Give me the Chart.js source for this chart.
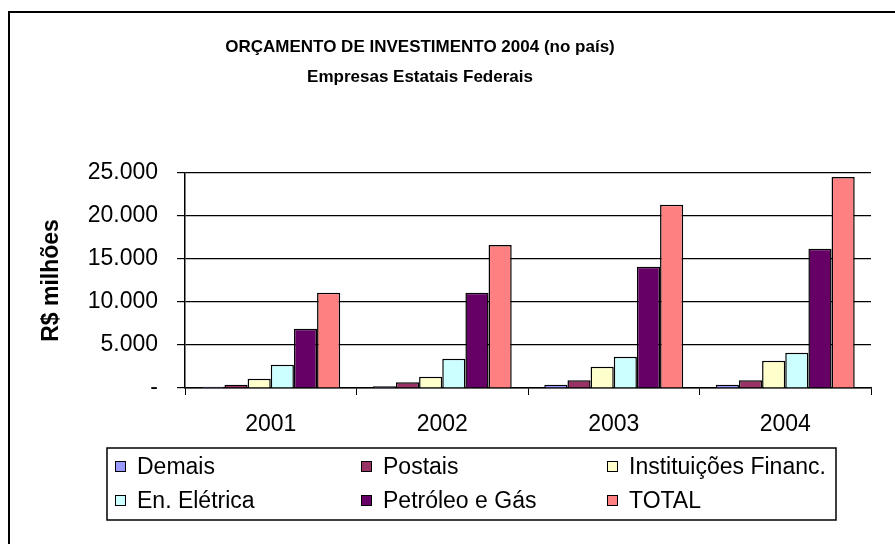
<!DOCTYPE html>
<html>
<head>
<meta charset="utf-8">
<script src="https://cdn.jsdelivr.net/npm/chart.js@4"></script>
<style>
html,body{margin:0;padding:0;background:#fff;}
#wrap{width:895px;height:544px;}
</style>
</head>
<body>
<div id="wrap"><canvas id="chart" width="895" height="544"></canvas></div>
<script>
// Orçamento de investimento - Empresas Estatais Federais (R$ milhões)

const years = ["2001", "2002", "2003", "2004"]

const demais = [150, 190, 390, 390]
const postais = [390, 660, 890, 890]
const instituicoes = [1080, 1320, 2480, 3170]
const enEletrica = [2710, 3400, 3640, 4100]
const petroleo = [6890, 11070, 14090, 16180]
const total = [11070, 16640, 21320, 24540]

const yTicks = [0, 5000, 10000, 15000, 20000, 25000]

const titleLines = ["ORÇAMENTO DE INVESTIMENTO 2004 (no país)", "Empresas Estatais Federais"]

const FONT = "'Liberation Sans', Arial, sans-serif"


function fmt(v){
if(v === 0) return "-"
return String(v).replace(/\B(?=(\d{3})+(?!\d))/g, ".")
}


function ds(label, data, color){
return {
label: label,
data: data,
backgroundColor: color,
borderColor: "#000",
borderWidth: 1.5,
categoryPercentage: 0.81,
barPercentage: 1.0
}
}


// frame, title and legend drawn on the canvas

const decor = {
id: "decor",
afterDraw(chart){
const ctx = chart.ctx
ctx.save()

// outer frame
ctx.strokeStyle = "#000"
ctx.lineWidth = 2
ctx.strokeRect(9, 12, 900, 600)

// title
ctx.fillStyle = "#000"
ctx.font = "bold 17px " + FONT
ctx.textAlign = "center"
ctx.textBaseline = "middle"
ctx.fillText(titleLines[0], 420, 47)
ctx.fillText(titleLines[1], 420, 77)

// legend box
ctx.lineWidth = 1.5
ctx.strokeRect(107, 448, 729, 72)

const colX = [115, 361, 607]
const rowY = [467, 501]
ctx.font = "23px " + FONT
ctx.textAlign = "left"

chart.data.datasets.forEach((d, i) => {
const x = colX[i % 3]
const y = rowY[Math.floor(i / 3)]
ctx.fillStyle = d.backgroundColor
ctx.fillRect(x, y - 6, 11, 11)
ctx.lineWidth = 1
ctx.strokeStyle = "#000"
ctx.strokeRect(x + 0.5, y - 5.5, 10, 10)
ctx.fillStyle = "#000"
ctx.fillText(d.label, x + 22, y + 1)
})

ctx.restore()
}
}


new Chart(document.getElementById("chart"), {

type: "bar",

data: {
labels: years,
datasets: [
ds("Demais", demais, "#9999FF"),
ds("Postais", postais, "#993366"),
ds("Instituições Financ.", instituicoes, "#FFFFCC"),
ds("En. Elétrica", enEletrica, "#CCFFFF"),
ds("Petróleo e Gás", petroleo, "#660066"),
ds("TOTAL", total, "#FF8080")
]
},

options: {
responsive: false,
animation: false,
layout: {
padding: {left: 38, top: 173, right: 24, bottom: 96}
},
plugins: {
legend: {display: false},
title: {display: false},
tooltip: {enabled: false}
},
scales: {
x: {
afterFit(scale){ scale.height = 60 },
grid: {
color: "#000",
drawOnChartArea: false,
tickLength: 7,
offset: true
},
border: {color: "#000", width: 1.5},
ticks: {
color: "#000",
padding: 16,
font: {family: FONT, size: 23}
}
},
y: {
min: 0,
max: 25000,
afterFit(scale){ scale.width = 147 },
afterBuildTicks(scale){
scale.ticks = yTicks.map(v => ({value: v}))
},
grid: {
color: "#000",
lineWidth: 1.2,
tickLength: 8
},
border: {color: "#000", width: 1.5},
ticks: {
color: "#000",
padding: 19,
font: {family: FONT, size: 23},
callback: v => fmt(v)
},
title: {
display: true,
text: "R$ milhões",
color: "#000",
padding: 0,
font: {family: FONT, size: 23, weight: "bold"}
}
}
}
},

plugins: [decor]

})
</script>
</body>
</html>
